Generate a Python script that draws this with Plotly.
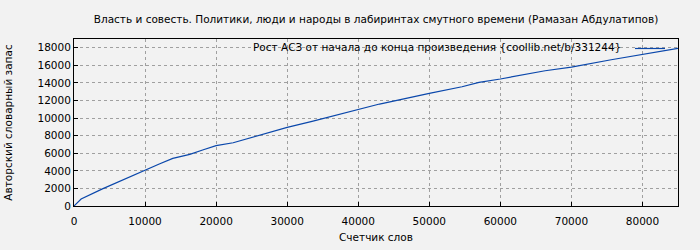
import plotly.graph_objects as go

title_text = "Власть и совесть. Политики, люди и народы в лабиринтах смутного времени (Рамазан Абдулатипов)"
series_name = "Рост АСЗ от начала до конца произведения {coollib.net/b/331244}"
x_title = "Счетчик слов"
y_title = "Авторский словарный запас"

words = [0, 1000, 4000, 9300, 10000, 12000, 13900, 16300, 18100, 20000, 22400,
         26100, 29000, 30000, 33500, 40000, 43000, 50000, 54600, 57000, 60000,
         66300, 70000, 75600, 80000, 85000]
vocab = [0, 800, 1950, 3870, 4060, 4780, 5420, 5870, 6370, 6860, 7200,
         8070, 8720, 8950, 9630, 10920, 11600, 12810, 13570, 14060, 14450,
         15390, 15800, 16640, 17280, 17930]

x_ticks = [0, 10000, 20000, 30000, 40000, 50000, 60000, 70000, 80000]
y_ticks = [0, 2000, 4000, 6000, 8000, 10000, 12000, 14000, 16000, 18000]

FONT = "DejaVu Sans"
fig = go.Figure()
fig.add_trace(go.Scatter(x=words, y=vocab, mode="lines", name="",
                         line=dict(color="#0a47ab", width=1.2), showlegend=True))

axis_common = dict(showline=True, linecolor="black", linewidth=1, mirror=True,
                   showgrid=True, gridcolor="#a0a0a0", griddash="dot", gridwidth=1,
                   ticks="inside", ticklen=4, tickcolor="black", zeroline=False,
                   automargin=False,
                   tickfont=dict(family=FONT, size=10.5, color="black"))

fig.update_layout(
    width=700, height=250,
    paper_bgcolor="#f2f2f2", plot_bgcolor="#f2f2f2",
    margin=dict(l=74, r=22, t=39, b=44),
    title=dict(text=title_text, xref="paper", x=0.5, xanchor="center", y=1 - 19 / 250, yanchor="middle",
               font=dict(family=FONT, size=10.5, color="black")),
    xaxis=dict(range=[0, 85000], tickvals=x_ticks, ticktext=[str(v) for v in x_ticks],
               ticklabelstandoff=5,
               title=dict(text=x_title, font=dict(family=FONT, size=10.5, color="black"), standoff=8),
               **axis_common),
    yaxis=dict(range=[0, 19000], tickvals=y_ticks, ticktext=[str(v) for v in y_ticks],
               title=dict(text=y_title, font=dict(family=FONT, size=10.5, color="black"), standoff=22),
               **axis_common),
    legend=dict(x=1 - 3 / 604, y=1 + 5 / 167, xanchor="right", yanchor="top", bgcolor="rgba(0,0,0,0)",
                font=dict(family=FONT, size=10.5), itemwidth=30,
                tracegroupgap=0),
    showlegend=True,
)
fig.add_annotation(text=series_name, xref="paper", yref="paper", x=(623 - 74) / 604,
                   y=(206 - 47) / 167, xanchor="right", yanchor="middle", showarrow=False,
                   font=dict(family=FONT, size=10.5, color="black"))
fig.write_html("out.html")
